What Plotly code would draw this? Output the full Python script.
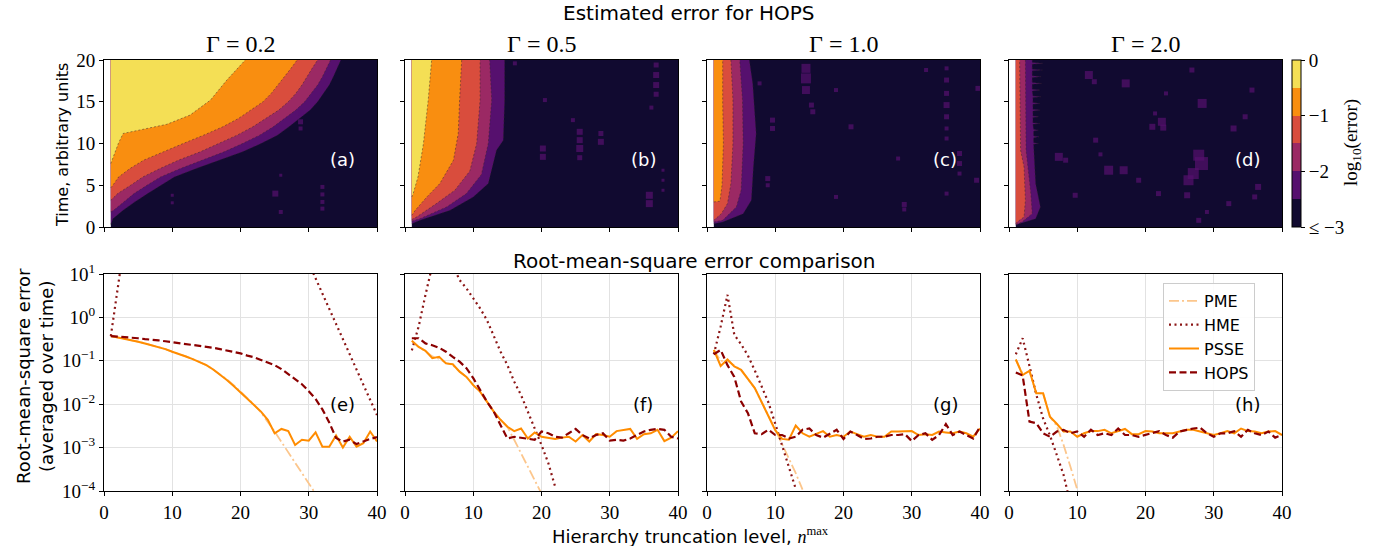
import plotly.graph_objects as go

W, H = 1377, 546
SANS = "DejaVu Sans"
SERIF = "Liberation Serif"

# ---------------- data ----------------
N = list(range(1, 41))
N_FIRST, N_LAST, T_END = 1, 40, 20
GAMMA_LABELS = ["Γ = 0.2", "Γ = 0.5", "Γ = 1.0", "Γ = 2.0"]
TOP_TAGS = ["(a)", "(b)", "(c)", "(d)"]
BOT_TAGS = ["(e)", "(f)", "(g)", "(h)"]

# contour levels of log10(error) and their colours (inferno bands)
LEVELS = [-2.5, -2.0, -1.5, -1.0, -0.5]
LEVEL_COLORS = ["#56106e", "#9b2964", "#d94d3d", "#f98e10", "#f4df55"]
BG_COLOR = "#110a30"

# boundaries (time t, truncation level n) where log10(error) crosses each level
A_T_YEL = [7.6, 8.5, 10.0, 11.2, 11.6, 12.3, 13.4, 15.2, 17.6, 20.0]
A_N_YEL = [1.0, 1.4, 2.1, 2.8, 5.3, 9.2, 12.6, 15.6, 18.0, 20.7]
A_T_ORA = [4.7, 5, 6, 7, 8, 9, 10, 11, 12, 13, 14, 15, 16, 17, 18, 19, 20]
A_N_ORA = [1.0, 1.3, 2.15, 3.8, 5.8, 8.6, 11.6, 14.6, 17.4, 19.7, 21.6, 23.3, 24.5, 25.5, 26.4, 27.4, 28.3]
A_T_RED = [3.2, 4, 5, 6, 7, 8, 9, 10, 11, 12, 13, 14, 15, 16, 17, 18, 19, 20]
A_N_RED = [1.0, 2.0, 3.9, 5.7, 8.2, 10.9, 14.1, 16.9, 19.5, 21.8, 23.8, 25.6, 27.0, 28.1, 29.0, 29.7, 30.5, 31.3]
A_T_MAG = [1.8, 2, 3, 4, 5, 6, 7, 8, 9, 10, 11, 12, 13, 14, 15, 16, 17, 18, 19, 20]
A_N_MAG = [1.0, 1.4, 2.9, 4.4, 6.3, 8.3, 11.2, 14.3, 17.6, 20.3, 22.8, 24.8, 26.5, 28.1, 29.4, 30.4, 31.3, 32.0, 32.6, 33.2]
A_T_PUR = [0.3, 1, 2, 3, 4, 5, 6, 7, 8, 9, 10, 11, 12, 13, 14, 15, 16, 17, 18, 19, 20]
A_N_PUR = [1.0, 1.3, 2.8, 4.5, 6.4, 8.3, 10.3, 13.5, 16.8, 20.3, 23.0, 25.4, 27.1, 28.7, 30.2, 31.3, 32.2, 33.0, 33.6, 34.2, 34.7]

B_T_YEL = [3.6, 4.0, 6.0, 10.0, 15.2, 20.0]
B_N_YEL = [1.0, 1.2, 1.9, 2.7, 3.4, 3.9]
B_T_ORA = [1.4, 2.0, 3.6, 5.2, 8.0, 11.2, 15.2, 20.0]
B_N_ORA = [1.0, 1.5, 3.2, 5.1, 7.1, 7.8, 8.0, 8.3]
B_T_RED = [0.9, 1.2, 2.8, 4.4, 6.7, 10.0, 15.2, 20.0]
B_N_RED = [1.0, 1.7, 4.6, 7.3, 9.5, 10.5, 11.0, 11.0]
B_T_MAG = [0.7, 1.0, 2.4, 4.0, 6.3, 10.0, 15.2, 20.0]
B_N_MAG = [1.0, 2.2, 6.1, 9.0, 11.2, 12.2, 12.7, 12.4]
B_T_PUR = [0.4, 0.8, 2.0, 3.6, 5.2, 9.2, 10.4, 15.2, 20.0]
B_N_PUR = [1.0, 2.2, 6.6, 10.0, 12.2, 13.4, 14.4, 14.6, 14.6]

C_T_ORA = [3.0, 3.1, 5.0, 10.0, 15.0, 20.0]
C_N_ORA = [1.0, 1.9, 2.2, 2.4, 2.3, 2.3]
C_T_RED = [0.8, 1.6, 2.8, 5.2, 10.0, 15.2, 20.0]
C_N_RED = [1.0, 2.1, 3.0, 3.5, 3.8, 3.8, 3.5]
C_T_MAG = [0.6, 0.8, 2.4, 4.4, 10.0, 15.2, 20.0]
C_N_MAG = [1.0, 2.3, 4.3, 5.0, 5.3, 5.2, 4.8]
C_T_PUR = [0.4, 0.6, 1.6, 3.2, 7.2, 11.2, 17.2, 20.0]
C_N_PUR = [1.0, 2.3, 5.3, 6.5, 6.8, 7.2, 6.7, 6.2]

D_T_RED = [0.4, 0.6, 1.2, 3.2, 7.2, 9.2, 20.0]
D_N_RED = [1.0, 1.2, 2.2, 2.4, 2.2, 1.7, 1.56]
D_T_MAG = [0.3, 0.6, 1.6, 4.0, 9.2, 20.0]
D_N_MAG = [1.0, 1.9, 3.4, 3.2, 2.5, 2.4]
D_T_PUR = [0.2, 0.4, 1.0, 2.4, 5.2, 7.5, 9.6,
           9.9, 10.0, 10.1, 10.7, 10.8, 10.9, 11.5, 11.6, 11.7, 12.3, 12.4, 12.5, 13.1, 13.2, 13.3,
           13.9, 14.0, 14.1, 14.7, 14.8, 14.9, 15.5, 15.6, 15.7, 16.3, 16.4, 16.5, 17.1, 17.2, 17.3,
           17.9, 18.0, 18.1, 18.7, 18.8, 18.9, 19.5, 19.6, 19.7, 20.0]
D_N_PUR = [1.0, 1.5, 3.9, 4.6, 3.9, 3.8, 3.6,
           3.6, 4.3, 3.6, 3.6, 4.4, 3.6, 3.6, 4.3, 3.6, 3.5, 4.5, 3.5, 3.5, 4.4, 3.5,
           3.5, 4.6, 3.5, 3.5, 4.5, 3.5, 3.5, 4.7, 3.5, 3.4, 4.6, 3.4, 3.4, 4.8, 3.4,
           3.4, 4.7, 3.4, 3.4, 4.9, 3.4, 3.4, 5.0, 3.4, 3.4]

# isolated error patches above 1e-2.5 (n, t, patch size)
SPECK_A_N = [28.8, 28.8, 28.8, 10.0, 10.0, 25.1, 25.9, 25.9, 32.0, 32.0, 32.0, 32.0]
SPECK_A_T = [13.6, 12.6, 11.8, 3.8, 2.9, 4.0, 6.2, 1.8, 4.8, 3.9, 3.0, 2.2]
SPECK_A_S = [5, 5, 4, 3, 3, 6, 3, 4, 4, 4, 4, 4]
SPECK_B_N = [16.1, 20.5, 24.6, 25.6, 25.6, 25.6, 25.6, 20.2, 20.2, 28.7, 28.7, 36.8, 36.8, 36.8, 36.8, 36.1, 37.8, 37.8, 37.8, 35.8, 35.8]
SPECK_B_T = [19.6, 15.2, 12.8, 11.4, 10.4, 9.4, 8.3, 9.4, 8.4, 11.2, 10.2, 19.4, 18.2, 17.0, 15.9, 14.3, 6.8, 5.6, 4.4, 3.8, 2.8]
SPECK_B_S = [4, 4, 4, 6, 6, 7, 5, 6, 6, 5, 6, 5, 6, 6, 5, 4, 3, 3, 3, 7, 7]
SPECK_C_N = [14.5, 14.5, 14.5, 15.3, 15.5, 9.6, 9.6, 8.9, 8.9, 21.1, 18.9, 28.9, 28.9, 35.1, 35.1, 35.1, 35.1, 35.1, 35.1, 35.1,
             37.0, 37.0, 37.0, 39.5, 39.7, 32.1, 35.1, 7.7, 28.0, 18.9]
SPECK_C_T = [19.0, 17.8, 16.4, 14.6, 13.8, 12.8, 11.8, 5.8, 5.0, 12.0, 16.4, 2.7, 2.1, 19.0, 17.6, 16.0, 14.6, 13.2, 11.8, 10.6,
             8.8, 7.6, 6.4, 5.6, 16.6, 18.8, 4.0, 17.2, 8.2, 3.6]
SPECK_C_S = [9, 10, 8, 5, 5, 5, 5, 5, 4, 5, 4, 5, 4, 4, 5, 5, 6, 5, 4, 4,
             5, 5, 4, 5, 5, 4, 4, 4, 4, 4]
SPECK_D_N = [11.7, 12.5, 17.1, 28.3, 22.4, 21.0, 22.6, 7.3, 8.3, 14.6, 16.8, 27.8, 28.2, 27.0, 26.3, 26.1, 19.0, 27.8, 36.5, 32.2,
             36.0, 34.6, 32.9, 35.6, 12.7, 21.9, 9.7, 21.4, 26.8, 13.4, 23.0, 29.0]
SPECK_D_T = [18.2, 17.4, 17.2, 14.8, 12.6, 12.0, 11.9, 8.4, 8.0, 6.8, 6.8, 8.6, 7.6, 6.4, 5.6, 3.8, 5.6, 0.8, 4.8, 2.8,
             3.6, 13.2, 11.8, 16.4, 10.4, 4.0, 3.8, 13.6, 18.8, 8.7, 16.0, 1.8]
SPECK_D_S = [8, 5, 8, 9, 8, 6, 6, 8, 5, 9, 8, 11, 13, 11, 10, 6, 5, 5, 6, 5,
             5, 5, 6, 5, 5, 5, 5, 4, 5, 4, 4, 4]

# RMS error (log10 values), index = truncation level 1..40 ; None = outside plot
PME_E = [-0.43, -0.46, -0.49, -0.53, -0.56, -0.60, -0.64, -0.68, -0.73, -0.79, -0.84, -0.90, -0.96, -1.03, -1.10, -1.20,
         -1.31, -1.43, -1.56, -1.71, -1.86, -2.01, -2.19, -2.40, -2.63, -2.87, -3.11, -3.35, -3.58, -3.82, -4.06, -4.30,
         None, None, None, None, None, None, None, None]
HME_E = [-0.43, 0.60, 1.75] + [None] * 25 + [1.60, 1.25, 0.90, 0.55, 0.20, -0.15, -0.50, -0.85, -1.20, -1.55, -1.90, -2.25]
PSSE_E = [-0.43, -0.46, -0.49, -0.53, -0.56, -0.60, -0.64, -0.68, -0.73, -0.79, -0.84, -0.90, -0.96, -1.03, -1.10, -1.20,
          -1.31, -1.44, -1.58, -1.73, -1.88, -2.02, -2.17, -2.36, -2.67, -2.57, -2.62, -2.94, -2.82, -2.84, -2.65, -2.98,
          -2.98, -2.72, -3.00, -2.75, -2.98, -2.90, -2.63, -2.86]
HOPS_E = [-0.43, -0.44, -0.45, -0.47, -0.48, -0.50, -0.51, -0.53, -0.55, -0.57, -0.59, -0.61, -0.63, -0.65, -0.675, -0.70,
          -0.73, -0.76, -0.79, -0.83, -0.88, -0.92, -0.98, -1.04, -1.10, -1.19, -1.30, -1.42, -1.54, -1.70, -1.88, -2.12,
          -2.42, -2.78, -2.86, -2.82, -2.92, -2.86, -2.80, -2.76]

PME_F = [-0.54, -0.68, -0.78, -0.90, -0.95, -1.05, -1.10, -1.25, -1.37, -1.56, -1.71, -1.94, -2.17, -2.36, -2.52, -2.82,
         -3.13, -3.44, -3.75, -4.06] + [None] * 20
HME_F = [-0.76, -0.21, 0.52, 1.20, None, None, 1.20, 0.86, 0.67, 0.44, 0.21, -0.06, -0.44, -0.79, -1.10, -1.48,
         -1.79, -2.17, -2.56, -2.94, -3.36, -3.90] + [None] * 18
PSSE_F = [-0.54, -0.68, -0.77, -0.94, -0.91, -1.06, -1.08, -1.25, -1.37, -1.56, -1.71, -1.94, -2.17, -2.36, -2.52, -2.62,
          -2.56, -2.79, -2.65, -2.75, -2.77, -2.80, -2.77, -2.75, -2.86, -2.71, -2.86, -2.69, -2.71, -2.75, -2.62, -2.59,
          -2.57, -2.80, -2.69, -2.67, -2.59, -2.85, -2.77, -2.62]
HOPS_F = [-0.48, -0.48, -0.60, -0.64, -0.70, -0.79, -0.91, -1.02, -1.17, -1.40, -1.67, -1.94, -2.17, -2.48, -2.79, -2.75,
          -2.77, -2.79, -2.82, -2.63, -2.67, -2.75, -2.77, -2.67, -2.57, -2.71, -2.79, -2.71, -2.67, -2.84, -2.82, -2.84,
          -2.79, -2.71, -2.63, -2.59, -2.57, -2.59, -2.75, -2.79]

PME_G = [-0.75, -1.00, -1.00, -1.12, -1.22, -1.42, -1.63, -1.95, -2.26, -2.58, -2.92, -3.25, -3.59, -3.97] + [None] * 26
HME_G = [-0.85, -0.21, 0.52, -0.40, -0.62, -0.88, -1.22, -1.58, -1.96, -2.45, -2.95, -3.45, -3.95] + [None] * 27
PSSE_G = [-0.75, -1.12, -0.97, -1.13, -1.21, -1.42, -1.63, -1.95, -2.26, -2.60, -2.80, -2.82, -2.49, -2.67, -2.75, -2.69,
          -2.62, -2.75, -2.71, -2.75, -2.63, -2.69, -2.75, -2.71, -2.75, -2.75, -2.63, -2.63, -2.62, -2.62, -2.71, -2.69,
          -2.71, -2.63, -2.65, -2.67, -2.63, -2.67, -2.75, -2.56]
HOPS_G = [-0.85, -0.75, -1.10, -1.37, -1.94, -2.21, -2.67, -2.69, -2.59, -2.71, -2.71, -2.79, -2.75, -2.59, -2.56, -2.71,
          -2.77, -2.67, -2.59, -2.80, -2.63, -2.71, -2.80, -2.79, -2.75, -2.75, -2.71, -2.71, -2.69, -2.85, -2.71, -2.67,
          -2.82, -2.71, -2.46, -2.71, -2.63, -2.71, -2.79, -2.52]

PME_H = [-0.97, -1.30, -1.25, -1.75, -1.75, -2.29, -2.50, -2.94, -3.44, -3.97] + [None] * 30
HME_H = [-0.85, -0.48, -1.12, -1.78, -2.33, -2.72, -3.17, -3.63, -4.30] + [None] * 31
PSSE_H = [-0.97, -1.33, -1.23, -1.75, -1.75, -2.29, -2.45, -2.63, -2.63, -2.75, -2.67, -2.62, -2.62, -2.59, -2.67, -2.62,
          -2.57, -2.69, -2.69, -2.62, -2.63, -2.67, -2.67, -2.67, -2.63, -2.59, -2.59, -2.63, -2.67, -2.71, -2.67, -2.62,
          -2.67, -2.56, -2.62, -2.63, -2.67, -2.63, -2.62, -2.71]
HOPS_H = [-1.27, -1.34, -2.40, -2.44, -2.67, -2.75, -2.63, -2.59, -2.67, -2.63, -2.75, -2.59, -2.71, -2.67, -2.71, -2.56,
          -2.71, -2.71, -2.75, -2.71, -2.67, -2.62, -2.71, -2.77, -2.63, -2.59, -2.56, -2.54, -2.67, -2.75, -2.67, -2.67,
          -2.62, -2.75, -2.59, -2.67, -2.71, -2.63, -2.77, -2.71]

# ---------------- figure ----------------
PANELS_TOP = [
    [(A_T_PUR, A_N_PUR), (A_T_MAG, A_N_MAG), (A_T_RED, A_N_RED), (A_T_ORA, A_N_ORA), (A_T_YEL, A_N_YEL)],
    [(B_T_PUR, B_N_PUR), (B_T_MAG, B_N_MAG), (B_T_RED, B_N_RED), (B_T_ORA, B_N_ORA), (B_T_YEL, B_N_YEL)],
    [(C_T_PUR, C_N_PUR), (C_T_MAG, C_N_MAG), (C_T_RED, C_N_RED), (C_T_ORA, C_N_ORA), None],
    [(D_T_PUR, D_N_PUR), (D_T_MAG, D_N_MAG), (D_T_RED, D_N_RED), None, None],
]
SPECKS = [(SPECK_A_N, SPECK_A_T, SPECK_A_S), (SPECK_B_N, SPECK_B_T, SPECK_B_S),
          (SPECK_C_N, SPECK_C_T, SPECK_C_S), (SPECK_D_N, SPECK_D_T, SPECK_D_S)]
PANELS_BOT = [
    (PME_E, HME_E, PSSE_E, HOPS_E),
    (PME_F, HME_F, PSSE_F, HOPS_F),
    (PME_G, HME_G, PSSE_G, HOPS_G),
    (PME_H, HME_H, PSSE_H, HOPS_H),
]
SERIES_NAMES = ["PME", "HME", "PSSE", "HOPS"]
SERIES_LINES = [
    dict(color="#fcc68c", width=1.8, dash="10px,3px,2px,3px"),
    dict(color="#8b1515", width=2.2, dash="2px,3.5px"),
    dict(color="#ff8c00", width=2.0),
    dict(color="#8b0000", width=2.2, dash="7px,3.5px"),
]
CONTOUR_LINE = dict(color="rgba(50,35,45,0.6)", width=0.8, dash="2px,2px")

PANEL_X0 = [104, 405, 707, 1009]
PANEL_W = 273
TOP_Y = (60, 227)
BOT_Y = (274, 491)
GRID = "#e2e2e2"


def sfx(k):
    return "" if k == 1 else str(k)


def delog(arr):
    return [None if v is None else 10 ** v for v in arr]


fig = go.Figure()

for i in range(4):
    kt = i + 1
    xa, ya = "x" + sfx(kt), "y" + sfx(kt)
    # dark background band (error <= 1e-2.5)
    fig.add_trace(go.Scatter(x=[N_FIRST, N_FIRST], y=[0, T_END], mode="lines", line=dict(width=0),
                             hoverinfo="skip", showlegend=False, xaxis=xa, yaxis=ya))
    fig.add_trace(go.Scatter(x=[N_LAST, N_LAST], y=[0, T_END], mode="lines", line=dict(width=0),
                             fill="tonextx", fillcolor=BG_COLOR, hoverinfo="skip", showlegend=False,
                             xaxis=xa, yaxis=ya))
    for bound, col in zip(PANELS_TOP[i], LEVEL_COLORS):
        if bound is None:
            continue
        t_vals, n_vals = bound
        fig.add_trace(go.Scatter(x=[N_FIRST] * len(t_vals), y=t_vals, mode="lines", line=dict(width=0),
                                 hoverinfo="skip", showlegend=False, xaxis=xa, yaxis=ya))
        fig.add_trace(go.Scatter(x=n_vals, y=t_vals, mode="lines", line=CONTOUR_LINE,
                                 fill="tonextx", fillcolor=col, hoverinfo="skip", showlegend=False,
                                 xaxis=xa, yaxis=ya))
    sn, st, ss = SPECKS[i]
    fig.add_trace(go.Scatter(x=sn, y=st, mode="markers",
                             marker=dict(symbol="square", size=ss, color=LEVEL_COLORS[0], line=dict(width=0)),
                             hoverinfo="skip", showlegend=False, xaxis=xa, yaxis=ya))

# colour bar
CB_COLORS = [BG_COLOR] + LEVEL_COLORS
cscale = []
for j, c in enumerate(CB_COLORS):
    cscale.append([j / 6, c])
    cscale.append([(j + 1) / 6, c])
fig.add_trace(go.Scatter(
    x=[None], y=[None], mode="markers", showlegend=False, hoverinfo="skip", xaxis="x", yaxis="y",
    marker=dict(color=[-3], cmin=-3, cmax=0, colorscale=cscale, showscale=True,
                colorbar=dict(x=1292 / W, xanchor="left", y=1 - (TOP_Y[0] + TOP_Y[1]) / 2 / H, yanchor="middle",
                              len=(TOP_Y[1] - TOP_Y[0]) / H, lenmode="fraction", thickness=9,
                              thicknessmode="pixels", outlinewidth=1, outlinecolor="black", xpad=0, ypad=0,
                              ticks="outside", ticklen=4, tickwidth=1, tickcolor="black",
                              tickvals=[-3, -2, -1, 0], ticktext=["≤ −3", "−2", "−1", "0"],
                              tickfont=dict(family=SERIF, size=19, color="black")))))

for i in range(4):
    kb = i + 5
    xa, ya = "x" + sfx(kb), "y" + sfx(kb)
    for name, vals, ln in zip(SERIES_NAMES, PANELS_BOT[i], SERIES_LINES):
        fig.add_trace(go.Scatter(x=N, y=delog(vals), mode="lines", line=ln, name=name,
                                 showlegend=(i == 3), hoverinfo="skip", xaxis=xa, yaxis=ya))

layout = {}
for i in range(4):
    x0 = PANEL_X0[i]
    xdom = [x0 / W, (x0 + PANEL_W) / W]
    kt, kb = i + 1, i + 5
    common_x = dict(domain=xdom, range=[0, 40], tickvals=[0, 10, 20, 30, 40], ticks="outside", ticklen=4,
                    tickwidth=1, tickcolor="black", showline=True, linecolor="black", linewidth=1,
                    mirror=True, zeroline=False)
    layout["xaxis" + sfx(kt)] = dict(common_x, anchor="y" + sfx(kt), showticklabels=False, showgrid=False)
    layout["xaxis" + sfx(kb)] = dict(common_x, anchor="y" + sfx(kb), showticklabels=True, showgrid=True,
                                      gridcolor=GRID, gridwidth=1,
                                      tickfont=dict(family=SERIF, size=19, color="black"))
    layout["yaxis" + sfx(kt)] = dict(domain=[1 - TOP_Y[1] / H, 1 - TOP_Y[0] / H], anchor="x" + sfx(kt),
                                      range=[0, 20], tickvals=[0, 5, 10, 15, 20], showticklabels=(i == 0),
                                      ticks="outside", ticklen=4, tickwidth=1, tickcolor="black",
                                      showline=True, linecolor="black", linewidth=1, mirror=True,
                                      zeroline=False, showgrid=False,
                                      tickfont=dict(family=SERIF, size=19, color="black"))
    layout["yaxis" + sfx(kb)] = dict(domain=[1 - BOT_Y[1] / H, 1 - BOT_Y[0] / H], anchor="x" + sfx(kb),
                                      type="log", range=[-4, 1],
                                      tickvals=[1e-4, 1e-3, 1e-2, 1e-1, 1e0, 1e1],
                                      ticktext=["10<sup>−4</sup>", "10<sup>−3</sup>", "10<sup>−2</sup>",
                                                "10<sup>−1</sup>", "10<sup>0</sup>", "10<sup>1</sup>"],
                                      showticklabels=(i == 0), ticks="outside", ticklen=4, tickwidth=1,
                                      tickcolor="black", showline=True, linecolor="black", linewidth=1,
                                      mirror=True, zeroline=False, showgrid=True, gridcolor=GRID, gridwidth=1,
                                      tickfont=dict(family=SERIF, size=19, color="black"))

ann = []


def add_text(text, px, py, size, family=SANS, color="black", angle=0):
    ann.append(dict(text=text, x=px / W, y=1 - py / H, xref="paper", yref="paper", showarrow=False,
                    xanchor="center", yanchor="middle", textangle=angle,
                    font=dict(family=family, size=size, color=color)))


add_text("Estimated error for HOPS", 689, 13, 20)
add_text("Root-mean-square error comparison", 694, 261, 20)
for i in range(4):
    cx = PANEL_X0[i] + PANEL_W / 2
    add_text(GAMMA_LABELS[i], cx, 44, 24, family=SERIF)
    add_text(TOP_TAGS[i], PANEL_X0[i] + 238, 159, 18, color="white")
    add_text(BOT_TAGS[i], PANEL_X0[i] + 238, 404, 18)
add_text("Time, arbitrary units", 63, 145, 16, angle=-90)
add_text("Root-mean-square error<br>(averaged over time)", 35, 376, 18, angle=-90)
add_text('Hierarchy truncation level, <span style="font-family:Liberation Serif"><i>n</i><sup>max</sup></span>',
         690, 535, 18)
add_text("log<sub>10</sub>(error)", 1352, 143, 19, family=SERIF, angle=-90)

fig.update_layout(
    width=W, height=H, margin=dict(l=0, r=0, t=0, b=0, autoexpand=False),
    plot_bgcolor="white", paper_bgcolor="white",
    annotations=ann,
    legend=dict(x=1163 / W, y=1 - 283 / H, xanchor="left", yanchor="top", bgcolor="rgba(255,255,255,0.9)",
                bordercolor="#cccccc", borderwidth=1, font=dict(family=SANS, size=16, color="black"),
                itemwidth=30, traceorder="normal"),
    **layout,
)

fig.write_html("out.html", config={"displayModeBar": False},
               post_script="document.body.style.margin='0';document.body.style.overflow='hidden';")
